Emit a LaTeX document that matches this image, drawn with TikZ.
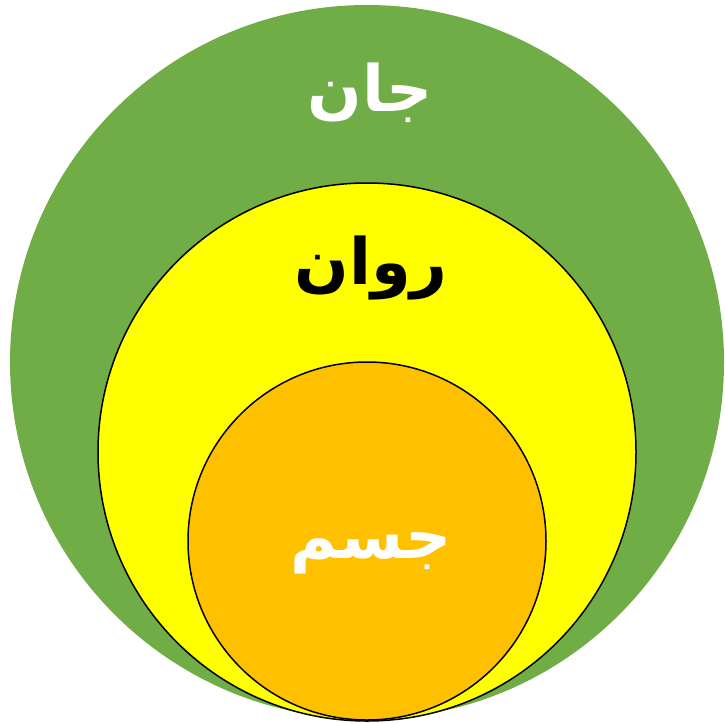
\documentclass[tikz,border=0pt]{standalone}
\usepackage{fontspec}
\usepackage{xcolor}
\usepackage{tikz}
\usetikzlibrary{positioning}
\TeXXeTstate=1
\newfontfamily\arabicfont[Script=Arabic]{DejaVu Sans}
\definecolor{janGreen}{HTML}{70AD47}
\definecolor{ravanYellow}{HTML}{FFFF00}
\definecolor{jesmOrange}{HTML}{FFC000}

\begin{document}
\begin{tikzpicture}[x=1pt, y=-1pt,
  ring/.style={circle, inner sep=0pt, line width=1.5pt},
  lbl/.style={font=\arabicfont\bfseries\fontsize{64}{72}\selectfont, inner sep=0pt}]
\useasboundingbox (0,0) rectangle (725,723);
% three nested circles touching at the bottom
\node[ring, fill=janGreen, minimum size=714pt] (jan) at (367,362) {};
\node[ring, draw=black, fill=ravanYellow, minimum size=538pt] (ravan) at (367,452) {};
\node[ring, draw=black, fill=jesmOrange, minimum size=358pt] (jesm) at (367,541) {};
% labels
\node[lbl, text=white] (janText) at (370,93) {\beginR جان\endR};
\node[lbl, text=black] (ravanText) at (371,268) {\beginR روان\endR};
\node[lbl, text=white] (jesmText) at (371,553) {\beginR جسم\endR};
\end{tikzpicture}
\end{document}
